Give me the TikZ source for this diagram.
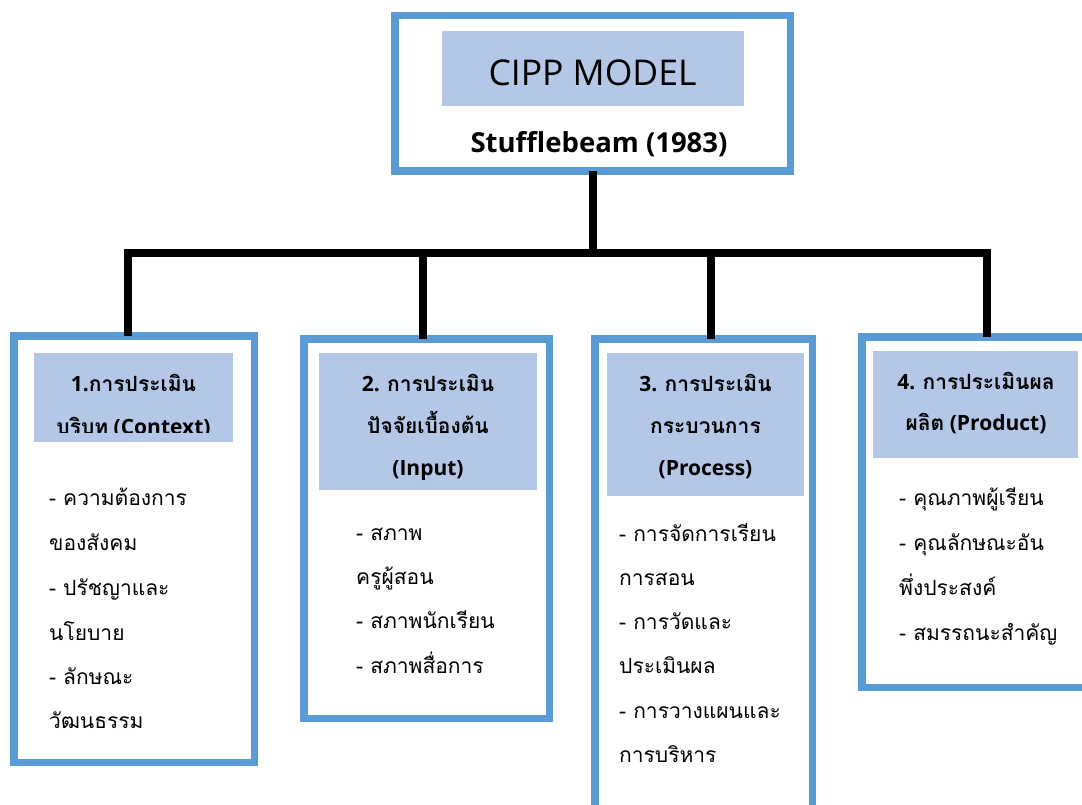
\documentclass[tikz,border=0pt]{standalone}
\usepackage{fontspec}
\setmainfont{Open Sans}
\newfontfamily\thai[Script=Thai]{Loma}
\definecolor{frame}{HTML}{5B9BD5}
\definecolor{head}{HTML}{B4C7E7}
\newcommand{\T}[1]{{\thai #1}}
\tikzset{
  frm/.style={draw=frame, line width=7.5pt, fill=white, inner sep=0pt, outer sep=0pt},
  hd/.style={fill=head, inner sep=0pt, outer sep=0pt},
  conn/.style={line width=8pt, draw=black},
  bodytxt/.style={anchor=base west, inner sep=0pt, font=\thai\fontsize{21}{25}\selectfont},
  headtxt/.style={anchor=base, inner sep=0pt, font=\bfseries\fontsize{21}{25}\selectfont},
}
\begin{document}
\begin{tikzpicture}[x=1pt,y=-1pt]
\useasboundingbox (0,0) rectangle (1082,805);
% connector coordinates
\coordinate (bus) at (593,253.5);
\coordinate (d1) at (128,0);
\coordinate (d2) at (423,0);
\coordinate (d3) at (711,0);
\coordinate (d4) at (987,0);
% boxes
\node[frm, minimum width=395.5pt, minimum height=155.5pt] (top) at (592.5,93.5) {};
\node[frm, minimum width=240.5pt, minimum height=426.5pt] (b1) at (134,549) {};
\node[frm, minimum width=245.5pt, minimum height=379.5pt] (b2) at (426.5,528.5) {};
\node[frm, minimum width=217.5pt, minimum height=491pt] (b3) at (703.5,584.5) {};
\node[frm, minimum width=238pt, minimum height=350.5pt] (b4) at (981,512) {};
% connectors
\draw[conn] (top.south) -- (top.south |- bus);
\draw[conn] (d1 |- b1.north) -- (d1 |- bus) -- (d4 |- bus) -- (d4 |- b4.north);
\draw[conn] (d2 |- bus) -- (d2 |- b2.north);
\draw[conn] (d3 |- bus) -- (d3 |- b3.north);
% header fills
\node[hd, minimum width=302pt, minimum height=75pt] (h0) at (593,68.5) {};
\node[hd, minimum width=199pt, minimum height=89pt] (h1) at (133.5,397.5) {};
\node[hd, minimum width=218pt, minimum height=137pt] (h2) at (428,421.5) {};
\node[hd, minimum width=197pt, minimum height=143pt] (h3) at (705.5,424.5) {};
\node[hd, minimum width=205pt, minimum height=107pt] (h4) at (975.5,404.5) {};
% top texts
\node[anchor=base, inner sep=0pt, font=\fontsize{35.5}{42}\selectfont] (cipp) at (592.5,86) {CIPP MODEL};
\node[anchor=base, inner sep=0pt, font=\bfseries\fontsize{27.5}{32}\selectfont] (stuff) at (599,152.5) {Stufflebeam (1983)};
% box 1
\node[headtxt] (h1a) at (133.5,391) {1.\T{การประเมิน}};
\begin{scope}
\clip (34,353) rectangle (233,432);
\node[headtxt] (h1b) at (133.5,434) {\T{บริบท} (Context)};
\end{scope}
\node[bodytxt] (t1a) at (49,505) {- ความต้องการ};
\node[bodytxt] (t1b) at (49,550) {ของสังคม};
\node[bodytxt] (t1c) at (49,595) {- ปรัชญาและ};
\node[bodytxt] (t1d) at (49,640) {นโยบาย};
\node[bodytxt] (t1e) at (49,684) {- ลักษณะ};
\node[bodytxt] (t1f) at (49,728) {วัฒนธรรม};
% box 2
\node[headtxt] (h2a) at (428,391) {2. \T{การประเมิน}};
\node[headtxt] (h2b) at (428,433) {\T{ปัจจัยเบื้องต้น}};
\node[headtxt] (h2c) at (428,475) {(Input)};
\node[bodytxt] (t2a) at (356,540) {- สภาพ};
\node[bodytxt] (t2b) at (356,584) {ครูผู้สอน};
\node[bodytxt] (t2c) at (356,628) {- สภาพนักเรียน};
\node[bodytxt] (t2d) at (356,673) {- สภาพสื่อการ};
% box 3
\node[headtxt] (h3a) at (705.5,391) {3. \T{การประเมิน}};
\node[headtxt] (h3b) at (705.5,433) {\T{กระบวนการ}};
\node[headtxt] (h3c) at (705.5,475) {(Process)};
\node[bodytxt] (t3a) at (619,541) {- การจัดการเรียน};
\node[bodytxt] (t3b) at (619,585) {การสอน};
\node[bodytxt] (t3c) at (619,629) {- การวัดและ};
\node[bodytxt] (t3d) at (619,673) {ประเมินผล};
\node[bodytxt] (t3e) at (619,718) {- การวางแผนและ};
\node[bodytxt] (t3f) at (619,762) {การบริหาร};
% box 4
\node[headtxt] (h4a) at (976,389) {4. \T{การประเมินผล}};
\node[headtxt] (h4b) at (976,430) {\T{ผลิต} (Product)};
\node[bodytxt] (t4a) at (899,505) {- คุณภาพผู้เรียน};
\node[bodytxt] (t4b) at (899,550) {- คุณลักษณะอัน};
\node[bodytxt] (t4c) at (899,595) {พึ่งประสงค์};
\node[bodytxt] (t4d) at (899,640) {- สมรรถนะสำคัญ};
\end{tikzpicture}
\end{document}
